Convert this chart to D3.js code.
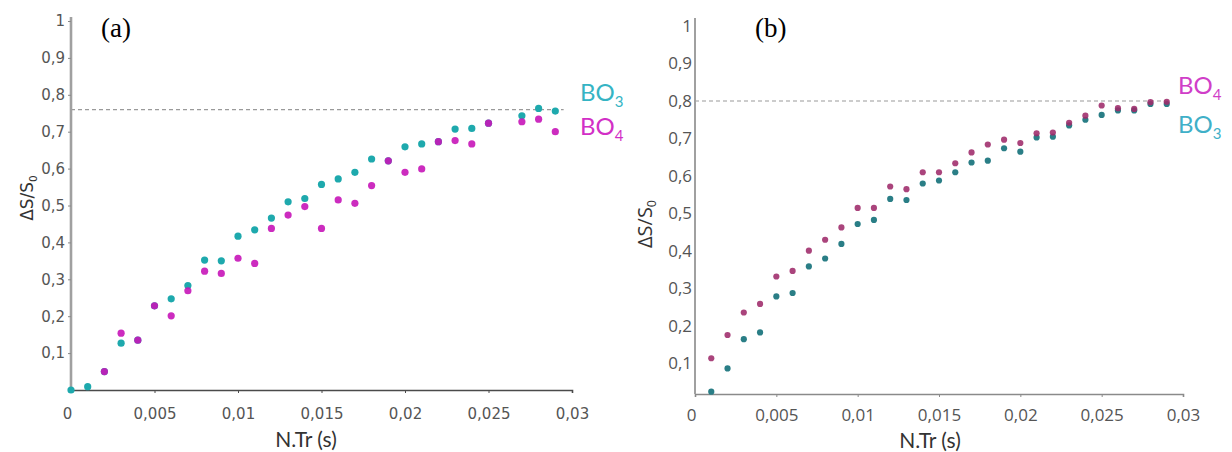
<!DOCTYPE html>
<html>
<head>
<meta charset="utf-8">
<script src="https://cdn.jsdelivr.net/npm/d3@7"></script>
<style>
  html, body { margin: 0; padding: 0; background: #fff; }
  svg { display: block; }
</style>
</head>
<body>
<svg id="chart" width="1232" height="452"></svg>
<script>
// ---------- data ----------
const xTicks = [0, 0.005, 0.01, 0.015, 0.02, 0.025, 0.03];
const yTicks = [0.1, 0.2, 0.3, 0.4, 0.5, 0.6, 0.7, 0.8, 0.9, 1];

// panel (a)
const xA = [0, 0.001, 0.002, 0.003, 0.004, 0.005, 0.006, 0.007, 0.008, 0.009, 0.010, 0.011, 0.012, 0.013, 0.014,
            0.015, 0.016, 0.017, 0.018, 0.019, 0.020, 0.021, 0.022, 0.023, 0.024, 0.025, 0.027, 0.028, 0.029];
const bo3A = [0, 0.009, 0.05, 0.127, 0.135, 0.228, 0.247, 0.283, 0.352, 0.350, 0.417, 0.434, 0.466, 0.510, 0.519,
              0.557, 0.572, 0.590, 0.626, 0.621, 0.659, 0.667, 0.673, 0.707, 0.709, 0.723, 0.743, 0.763, 0.756];
const bo4A = [null, null, 0.05, 0.154, 0.135, 0.228, 0.201, 0.269, 0.322, 0.316, 0.357, 0.343, 0.438, 0.474, 0.497,
              0.438, 0.515, 0.506, 0.554, 0.621, 0.590, 0.599, 0.673, 0.676, 0.667, 0.723, 0.727, 0.734, 0.700];
const refA = 0.76;

// panel (b)
const xB = [0.001, 0.002, 0.003, 0.004, 0.005, 0.006, 0.007, 0.008, 0.009, 0.010, 0.011, 0.012, 0.013, 0.014, 0.015,
            0.016, 0.017, 0.018, 0.019, 0.020, 0.021, 0.022, 0.023, 0.024, 0.025, 0.026, 0.027, 0.028, 0.029];
const bo4B = [0.114, 0.176, 0.236, 0.259, 0.332, 0.347, 0.401, 0.430, 0.463, 0.515, 0.515, 0.572, 0.565, 0.610, 0.610,
              0.634, 0.663, 0.684, 0.697, 0.688, 0.714, 0.716, 0.742, 0.761, 0.788, 0.781, 0.779, 0.797, 0.798];
const bo3B = [0.025, 0.087, 0.165, 0.183, 0.279, 0.288, 0.359, 0.380, 0.419, 0.472, 0.483, 0.539, 0.536, 0.580, 0.588,
              0.610, 0.636, 0.641, 0.674, 0.665, 0.703, 0.705, 0.735, 0.750, 0.763, 0.775, 0.775, 0.792, 0.792];
const refB = 0.8;

const svg = d3.select("#chart");
const fmt = v => (v === 0 ? "0" : v === 1 ? "1" : String(+v.toFixed(3)).replace(".", ","));

function panel(cfg) {
  const g = svg.append("g");
  const x = d3.scaleLinear().domain([0, 0.03]).range(cfg.xr);
  const y = d3.scaleLinear().domain([0, 1]).range(cfg.yr);

  // reference dashed line
  g.append("line")
    .attr("x1", x(0)).attr("x2", x(cfg.refEnd))
    .attr("y1", y(cfg.ref)).attr("y2", y(cfg.ref))
    .attr("stroke", "#9a9a9a").attr("stroke-width", 1.2)
    .attr("stroke-dasharray", "4,3");

  // x axis
  const xa = g.append("g")
    .attr("transform", `translate(0,${cfg.axisY})`)
    .call(d3.axisBottom(x).tickValues(xTicks).tickFormat(fmt).tickSize(3).tickPadding(cfg.xPad));
  xa.select(".domain").attr("stroke", cfg.xAxisColor).attr("stroke-width", 1.6);
  xa.selectAll(".tick line").attr("stroke", cfg.xAxisColor);
  xa.selectAll("text").attr("font-family", cfg.tickFont).attr("font-size", cfg.tickSize).attr("fill", "#555");
  xa.selectAll(".tick").filter(d => d === 0).select("text").attr("dx", -4);

  // y axis
  const ya = g.append("g")
    .attr("transform", `translate(${x(0)},0)`)
    .call(d3.axisLeft(y).tickValues(yTicks).tickFormat(fmt).tickSize(cfg.yTick).tickPadding(3).tickSizeOuter(0));
  ya.select(".domain").attr("d", `M0,${cfg.axisY}V${cfg.yTop}`).attr("stroke", "#a0a0a0").attr("stroke-width", cfg.yAxisW);
  ya.selectAll(".tick line").attr("stroke", "#888");
  ya.selectAll("text").attr("font-family", cfg.tickFont).attr("font-size", cfg.tickSize).attr("fill", "#555");

  // points
  const pts = (xs, ys) => xs.map((v, i) => ({x: v, y: ys[i]})).filter(d => d.y !== null);
  g.append("g").selectAll("circle").data(pts(cfg.xs, cfg.s1)).join("circle")
    .attr("cx", d => x(d.x)).attr("cy", d => y(d.y)).attr("r", cfg.r)
    .attr("fill", cfg.c1).attr("opacity", cfg.op1);
  g.append("g").selectAll("circle").data(pts(cfg.xs, cfg.s2)).join("circle")
    .attr("cx", d => x(d.x)).attr("cy", d => y(d.y)).attr("r", cfg.r)
    .attr("fill", cfg.c2).attr("opacity", cfg.op2);

  // series labels
  cfg.labels.forEach(l => {
    const t = g.append("text").attr("x", l.x).attr("y", l.y)
      .attr("font-family", "Lato, 'Open Sans', sans-serif").attr("font-size", 24).attr("fill", l.color);
    t.append("tspan").text("BO");
    t.append("tspan").attr("font-size", 15).attr("dy", 6).text(l.sub);
  });

  // axis titles
  const yt = g.append("text")
    .attr("transform", `translate(${cfg.yTitle[0]},${cfg.yTitle[1]}) rotate(-90)`)
    .attr("text-anchor", "middle").attr("font-family", cfg.titleFont).attr("font-size", cfg.yTitleSize).attr("fill", "#333");
  yt.append("tspan").text("ΔS/S");
  yt.append("tspan").attr("font-size", cfg.yTitleSize * 0.62).attr("dy", 4).text("0");

  g.append("text").attr("x", cfg.xTitle[0]).attr("y", cfg.xTitle[1])
    .attr("text-anchor", "middle").attr("font-family", "Lato, 'Open Sans', sans-serif")
    .attr("font-size", 21).attr("fill", "#333").text("N.Tr (s)");

  g.append("text").attr("x", cfg.tag[0]).attr("y", cfg.tag[1])
    .attr("font-family", "'Liberation Serif', 'Times New Roman', serif").attr("font-size", 27)
    .attr("fill", "#000").text(cfg.tagText);
}

panel({
  xr: [71, 572], yr: [390, 21], axisY: 390, yTop: 17,
  xs: xA, s1: bo3A, s2: bo4A, ref: refA, refEnd: 0.0295,
  c1: "#1ea9ad", c2: "#c615b8", op1: 1, op2: 0.9, r: 3.6,
  xAxisColor: "#4a4a4a", yAxisW: 2.6, yTick: 3, xPad: 15,
  tickFont: "'DejaVu Sans', sans-serif", tickSize: 15,
  titleFont: "'DejaVu Sans', sans-serif", yTitleSize: 17,
  yTitle: [33, 198], xTitle: [306, 447],
  labels: [{x: 580, y: 101, color: "#35b4c4", sub: "3"}, {x: 580, y: 135, color: "#d22fc6", sub: "4"}],
  tag: [101, 37], tagText: "(a)"
});

panel({
  xr: [695, 1183], yr: [401, 26], axisY: 394, yTop: 18,
  xs: xB, s1: bo3B, s2: bo4B, ref: refB, refEnd: 0.0292,
  c1: "#2a7e86", c2: "#9e2a6a", op1: 1, op2: 0.88, r: 3.1,
  xAxisColor: "#8a8a8a", yAxisW: 2, yTick: 0, xPad: 12,
  tickFont: "'Open Sans', sans-serif", tickSize: 17,
  titleFont: "'Open Sans', sans-serif", yTitleSize: 20,
  yTitle: [652, 224], xTitle: [930, 448],
  labels: [{x: 1178, y: 94, color: "#d03ec8", sub: "4"}, {x: 1178, y: 133, color: "#3fb0c8", sub: "3"}],
  tag: [755, 37], tagText: "(b)"
});
</script>
</body>
</html>
